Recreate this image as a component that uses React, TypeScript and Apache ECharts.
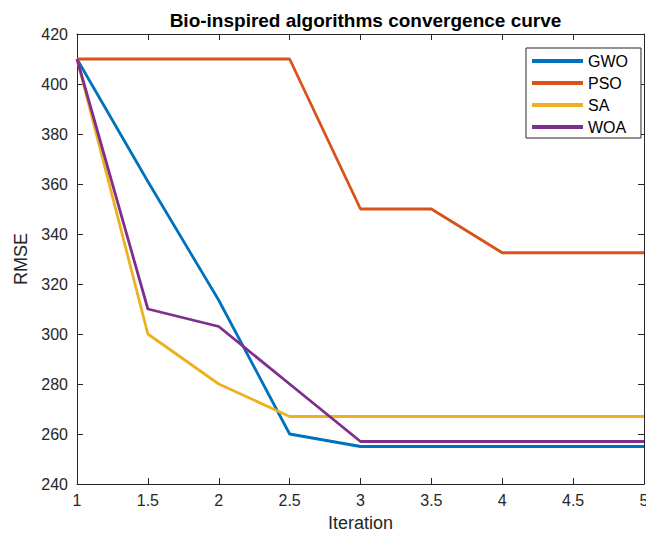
import React, { useEffect, useRef } from "react";
import * as echarts from "echarts";

const iterations = [1, 1.5, 2, 2.5, 3, 3.5, 4, 4.5, 5];
const gwo = [410, 361, 313.5, 260, 255, 255, 255, 255, 255];
const pso = [410, 410, 410, 410, 350, 350, 332.5, 332.5, 332.5];
const sa = [410, 300, 280, 267, 267, 267, 267, 267, 267];
const woa = [410, 310, 303, 280, 257, 257, 257, 257, 257];

const seriesNames = ["GWO", "PSO", "SA", "WOA"];
const seriesData = [gwo, pso, sa, woa];
const colors = ["#0072BD", "#D95319", "#EDB120", "#7E2F8E"];

const FONT = "'Liberation Sans', Arial, Helvetica, sans-serif";
const AX = "#262626";

export default function App() {
  const ref = useRef<HTMLDivElement>(null);
  useEffect(() => {
    if (!ref.current) return;
    const chart = echarts.init(ref.current, undefined, { renderer: "svg", width: 646, height: 538 });
    const xBase = {
      type: "value",
      min: 1,
      max: 5,
      interval: 0.5,
      splitLine: { show: false },
      axisLine: { show: true, onZero: false, lineStyle: { color: AX, width: 1 } },
      axisTick: { show: true, inside: true, length: 6, lineStyle: { color: AX } },
    };
    const yBase = {
      type: "value",
      min: 240,
      max: 420,
      interval: 20,
      splitLine: { show: false },
      axisLine: { show: true, onZero: false, lineStyle: { color: AX, width: 1 } },
      axisTick: { show: true, inside: true, length: 6, lineStyle: { color: AX } },
    };
    chart.setOption({
      animation: false,
      backgroundColor: "#ffffff",
      textStyle: { fontFamily: FONT },
      title: {
        text: "Bio-inspired algorithms convergence curve",
        left: 360.5,
        top: 6,
        textAlign: "center",
        textStyle: { fontFamily: FONT, fontSize: 19, fontWeight: "bold", color: "#000" },
      },
      grid: {
        left: 77,
        top: 34,
        right: 2,
        bottom: 54,
        containLabel: false,
        outerBoundsMode: "none",
      },
      legend: {
        orient: "vertical",
        left: 526,
        top: 48,
        padding: [5, 13, 3, 6],
        itemGap: 6,
        itemWidth: 51,
        itemHeight: 4,
        icon: "rect",
        backgroundColor: "#ffffff",
        borderColor: AX,
        borderWidth: 1,
        borderRadius: 0,
        data: seriesNames,
        textStyle: { fontFamily: FONT, fontSize: 16, color: "#000" },
      },
      xAxis: [
        {
          ...xBase,
          position: "bottom",
          name: "Iteration",
          nameLocation: "middle",
          nameGap: 30,
          nameTextStyle: { fontFamily: FONT, fontSize: 18, color: AX },
          axisLabel: { show: true, fontFamily: FONT, fontSize: 16, color: AX, margin: 8 },
        },
        {
          ...xBase,
          position: "top",
          axisLabel: { show: false },
        },
      ],
      yAxis: [
        {
          ...yBase,
          position: "left",
          name: "RMSE",
          nameLocation: "middle",
          nameRotate: 90,
          nameGap: 46,
          nameTextStyle: { fontFamily: FONT, fontSize: 18, color: AX },
          axisLabel: { show: true, fontFamily: FONT, fontSize: 16, color: AX, margin: 9 },
        },
        {
          ...yBase,
          position: "right",
          axisLabel: { show: false },
        },
      ],
      series: seriesNames.map((name, i) => ({
        name,
        type: "line",
        xAxisIndex: 0,
        yAxisIndex: 0,
        symbol: "none",
        color: colors[i],
        lineStyle: { color: colors[i], width: 2.8 },
        data: iterations.map((x, j) => [x, seriesData[i][j]]),
      })),
    });
    return () => chart.dispose();
  }, []);
  return (
    <div
      ref={ref}
      style={{ position: "fixed", left: 0, top: 0, width: 646, height: 538, background: "#fff" }}
    />
  );
}
